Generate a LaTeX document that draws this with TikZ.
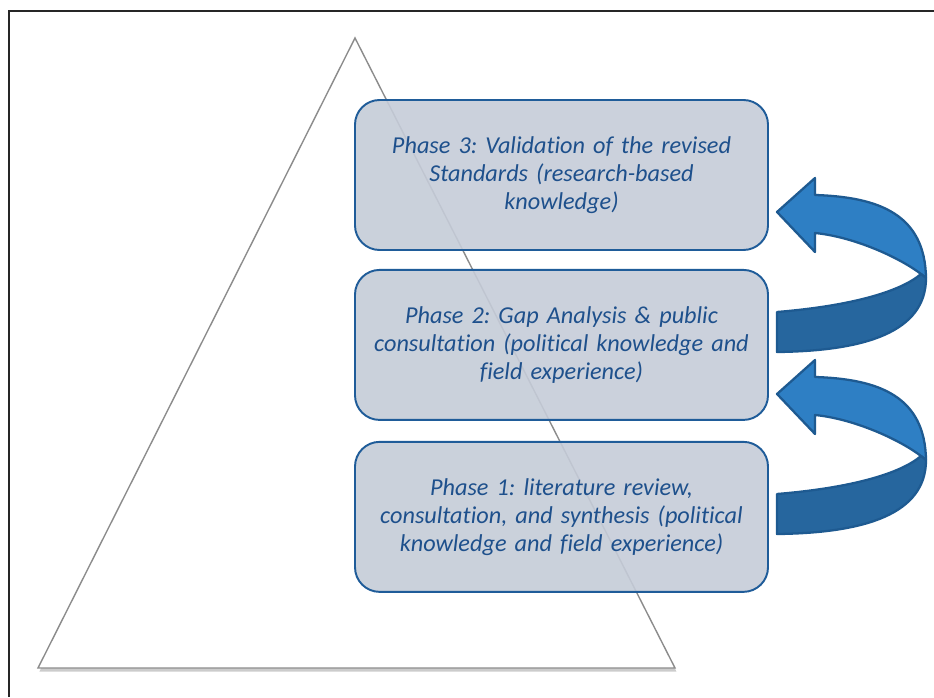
\documentclass[tikz,border=0pt]{standalone}
\usepackage{fontspec}
\setmainfont{Carlito}[Ligatures=NoCommon]
\usetikzlibrary{positioning, shadows}
\definecolor{cborder}{RGB}{31,92,153}
\definecolor{cbox}{RGB}{197,204,216}
\definecolor{ctext}{RGB}{30,80,140}
\definecolor{clight}{RGB}{46,127,196}
\definecolor{cdark}{RGB}{38,102,158}
\definecolor{cedge}{RGB}{30,90,145}
\definecolor{cgrey}{gray}{0.55}
\frenchspacing

\begin{document}
\begin{tikzpicture}[
    phase/.style={draw=cborder, line width=1.1pt, fill=cbox,
                  fill opacity=0.9, text opacity=1, rounded corners=14pt,
                  minimum width=8.26cm, minimum height=3cm, text width=8cm,
                  align=center, text=ctext, inner sep=0pt,
                  font=\fontsize{13.8pt}{16pt}\selectfont\itshape},
    face/.style={draw=cedge, line width=1.3pt, line join=round}]

  \useasboundingbox (0,0) rectangle (18.68,13.94);

  % open frame, top and left sides only
  \draw[line width=1.1pt, black!85] (0.18,0) -- (0.18,13.72) -- (18.68,13.72);

  % pyramid
  \draw[cgrey, line width=0.8pt, fill=white,
        drop shadow={opacity=0.4, shadow xshift=0.8pt, shadow yshift=-2pt}]
    (7.10,13.18) -- (13.50,0.58) -- (0.76,0.58) -- cycle;

  \node[phase] (p3) at (11.23,10.44)
    {Phase 3: Validation of the revised\\Standards (research-based\\knowledge)};
  \node[phase, below=0.36cm of p3] (p2)
    {Phase 2: Gap Analysis \& public\\consultation (political knowledge and\\field experience)};
  \node[phase, below=0.4cm of p2] (p1)
    {Phase 1: literature review,\\consultation, and synthesis (political\\knowledge and field experience)};

  % turning arrows, 1 -> 2 and 2 -> 3
  \foreach \dy in {0,-3.64} {
    \begin{scope}[yshift=\dy cm]
      \filldraw[face, fill=clight] (15.54,9.70) -- (16.30,10.38) -- (16.30,10.04)
        .. controls (17.60,10.00) and (18.50,9.64) .. (18.52,8.38)
        -- (18.42,8.46) .. controls (18.00,8.78) and (17.10,9.20) .. (16.30,9.28)
        -- (16.30,8.90) -- cycle;
      \filldraw[face, fill=cdark] (15.54,7.70)
        .. controls (17.00,7.82) and (18.00,8.10) .. (18.42,8.46)
        -- (18.52,8.38) .. controls (18.52,7.30) and (17.30,6.92) .. (15.54,6.90)
        -- cycle;
    \end{scope}
  }
\end{tikzpicture}
\end{document}
